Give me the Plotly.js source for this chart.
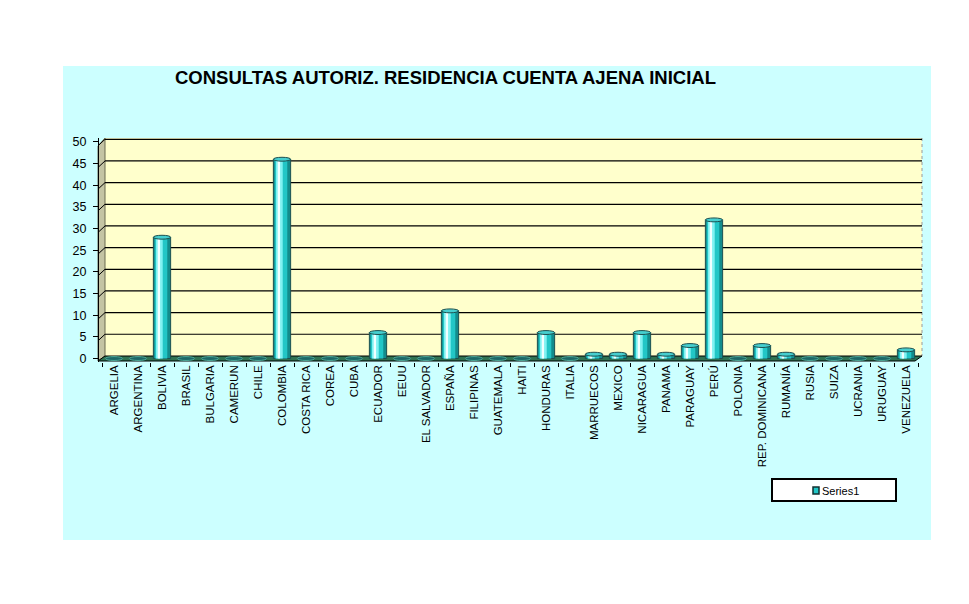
<!DOCTYPE html>
<html>
<head>
<meta charset="utf-8">
<script src="https://cdn.plot.ly/plotly-3.0.1.min.js"></script>
<style>html,body{margin:0;padding:0;background:#fff;}#chart{width:969px;height:604px;}</style>
</head>
<body>
<div id="chart"></div>
<script>
const countries = ["ARGELIA","ARGENTINA","BOLIVIA","BRASIL","BULGARIA","CAMERUN","CHILE","COLOMBIA","COSTA RICA","COREA","CUBA","ECUADOR","EEUU","EL SALVADOR","ESPAÑA","FILIPINAS","GUATEMALA","HAITI","HONDURAS","ITALIA","MARRUECOS","MEXICO","NICARAGUA","PANAMA","PARAGUAY","PERÚ","POLONIA","REP. DOMINICANA","RUMANÍA","RUSIA","SUIZA","UCRANIA","URUGUAY","VENEZUELA"];
const series1 = [0,0,28,0,0,0,0,46,0,0,0,6,0,0,11,0,0,0,6,0,1,1,6,1,3,32,0,3,1,0,0,0,0,2];
const yTicks = [0,5,10,15,20,25,30,35,40,45,50];
const seriesName = "Series1";
const chartTitle = "CONSULTAS AUTORIZ. RESIDENCIA CUENTA AJENA INICIAL";

// layout geometry (pixels)
const W = 969, H = 604;
const M = {l: 98, r: 51, t: 138, b: 242};
const PW = W - M.l - M.r, PH = H - M.t - M.b;
const px = x => (x - M.l) / PW;
const py = y => (H - M.b - y) / PH;
const FONT = 'Liberation Sans, Arial, sans-serif';

const shapes = [];
// chart area background
shapes.push({type:'rect', xref:'paper', yref:'paper', x0:px(63), x1:px(931), y0:py(66), y1:py(540), fillcolor:'#CCFFFF', line:{width:0}, layer:'below'});
// back wall
shapes.push({type:'rect', xref:'paper', yref:'paper', x0:px(105), x1:px(922), y0:py(356), y1:py(138), fillcolor:'#FFFFCC', line:{width:0}, layer:'below'});
// left side wall
shapes.push({type:'path', xref:'paper', yref:'paper', layer:'below',
  path:`M ${px(98)} ${py(146)} L ${px(105)} ${py(138)} L ${px(105)} ${py(356)} L ${px(98)} ${py(361)} Z`,
  fillcolor:'#C4C4A4', line:{color:'#6b6b50', width:1}});
// right wall edge
shapes.push({type:'line', xref:'paper', yref:'paper', layer:'below', x0:px(922), x1:px(922), y0:py(138), y1:py(356), line:{color:'#999999', width:1, dash:'dot'}});
// gridlines on back wall
yTicks.filter(v => v > 0).forEach(v => {
  shapes.push({type:'line', xref:'paper', yref:'y', layer:'below', x0:px(105), x1:px(922), y0:v+0.6, y1:v+0.6, line:{color:'#000000', width:1.2}});
  shapes.push({type:'line', xref:'paper', yref:'y', layer:'below', x0:px(98), x1:px(105), y0:v-0.9, y1:v+0.6, line:{color:'#000000', width:1}});
});
// floor
shapes.push({type:'path', xref:'paper', yref:'paper', layer:'below',
  path:`M ${px(98)} ${py(361)} L ${px(105)} ${py(356)} L ${px(922)} ${py(356)} L ${px(915)} ${py(361)} Z`,
  fillcolor:'#2F7252', line:{color:'#000000', width:1}});
// bar top caps (ellipses), built from the data
series1.forEach((v, i) => {
  shapes.push({type:'circle', xref:'x', yref:'y', layer:'above',
    x0:i-0.36, x1:i+0.36, y0:v-0.45, y1:v+0.45,
    fillcolor: v > 0 ? '#46CFCF' : '#1C6868', line:{color: v > 0 ? '#1D5050' : '#4FA898', width:1}});
});
// legend box and key
shapes.push({type:'rect', xref:'paper', yref:'paper', x0:px(772), x1:px(896), y0:py(479), y1:py(501), fillcolor:'#FFFFFF', line:{color:'#000000', width:2}, layer:'below'});
shapes.push({type:'rect', xref:'paper', yref:'paper', x0:px(813), x1:px(819), y0:py(487), y1:py(494), fillcolor:'#22C6C6', line:{color:'#103030', width:1.5}, layer:'above'});

const common = {type:'bar', x: countries, y: series1, hoverinfo:'skip', showlegend:false};
const traces = [
  Object.assign({}, common, {name:seriesName, width:0.72, offset:-0.36, marker:{color:'#138C8C', line:{color:'#1D5050', width:1}}}),
  Object.assign({}, common, {width:0.52, offset:-0.30, marker:{color:'#22C6C6', line:{width:0}}}),
  Object.assign({}, common, {width:0.28, offset:-0.25, marker:{color:'#80F2F2', line:{width:0}}}),
  Object.assign({}, common, {width:0.10, offset:-0.18, marker:{color:'#F0FFFF', line:{width:0}}})
];

const layout = {
  width: W, height: H,
  margin: M,
  paper_bgcolor:'#FFFFFF', plot_bgcolor:'rgba(0,0,0,0)',
  barmode:'overlay',
  font:{family:FONT, color:'#000000'},
  title:{text:'<b>'+chartTitle+'</b>', font:{size:18.5, family:FONT, color:'#000000'},
    xref:'container', yref:'container', x:175/W, xanchor:'left', y:1-78/H, yanchor:'middle'},
  xaxis:{type:'category', domain:[px(102), 1], range:[-0.5, 33.5], tickangle:-90,
    ticks:'outside', tickson:'boundaries', ticklen:4, tickcolor:'#000000', tickwidth:1,
    showline:false, showgrid:false, zeroline:false,
    tickfont:{size:11.5, family:FONT, color:'#000000'}},
  yaxis:{range:[-0.8, 50.9], tickvals:yTicks, ticktext:yTicks.map(String), anchor:'free', position:0,
    showline:true, linecolor:'#000000', linewidth:1, ticks:'outside', ticklen:5, tickcolor:'#000000',
    ticklabelstandoff:4, showgrid:false, zeroline:false,
    tickfont:{size:12.5, family:FONT, color:'#000000'}},
  shapes: shapes,
  showlegend:false,
  annotations:[{text:seriesName, xref:'paper', yref:'paper', x:px(820), y:py(490.5), xanchor:'left', yanchor:'middle',
    showarrow:false, font:{size:11, family:FONT, color:'#000000'}}]
};

Plotly.newPlot('chart', traces, layout, {displayModeBar:false, staticPlot:true});
</script>
</body>
</html>
